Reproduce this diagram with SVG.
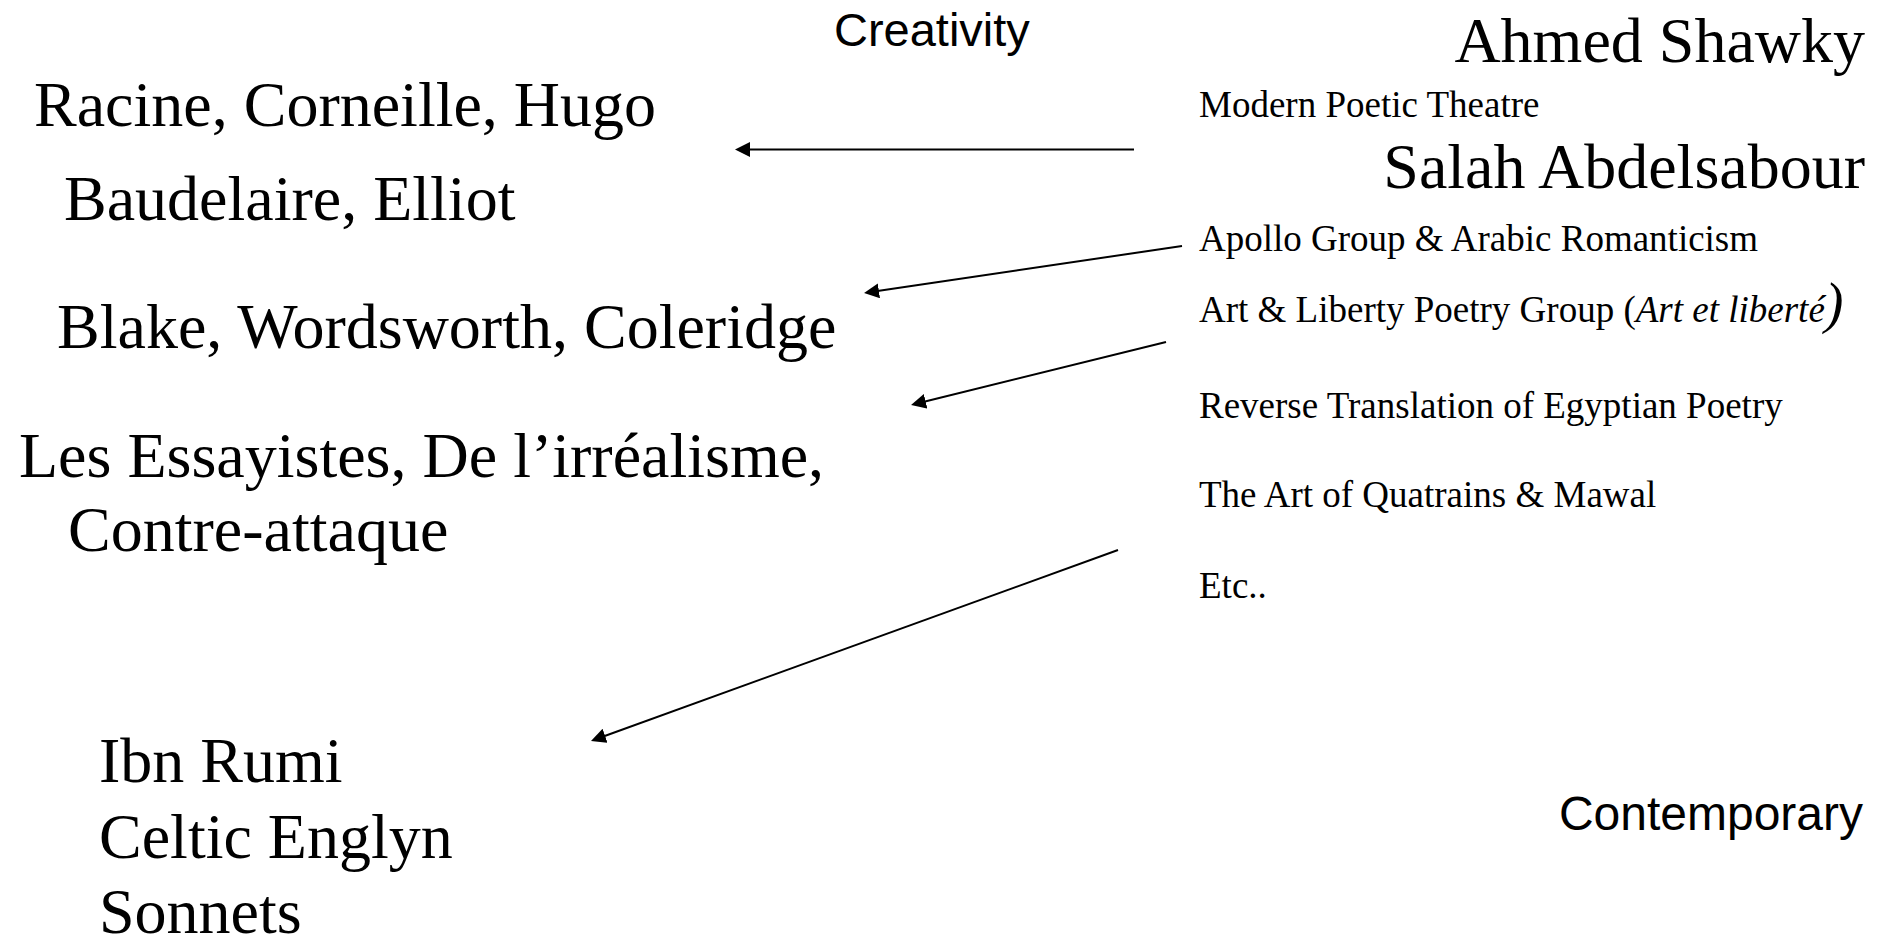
<svg xmlns="http://www.w3.org/2000/svg" width="1889" height="938" viewBox="0 0 1889 938">
<style>
.serif{font-family:"Liberation Serif","Times New Roman",serif;fill:#000}
.big{font-size:64px}
.small{font-size:37px}
.sans{font-family:"Liberation Sans",Arial,sans-serif;font-size:47px;fill:#000}
.conn{stroke:#000;stroke-width:2;fill:none}
</style>
<defs>
<marker id="arrow" markerUnits="userSpaceOnUse" markerWidth="16" markerHeight="16" refX="10" refY="7.5" orient="auto">
<path d="M0,0 L15,7.5 L0,15 Z" fill="#000"/>
</marker>
</defs>
<rect width="1889" height="938" fill="#fff"/>
<g id="creativity"><text class="sans" x="834" y="46">Creativity</text></g>
<g id="contemporary"><text class="sans" x="1863" y="830" text-anchor="end" style="font-size:48px">Contemporary</text></g>
<g id="racine"><text class="serif big" x="34" y="126">Racine, Corneille, Hugo</text></g>
<g id="baudelaire"><text class="serif big" x="64" y="220">Baudelaire, Elliot</text></g>
<g id="blake"><text class="serif big" x="57" y="348">Blake, Wordsworth, Coleridge</text></g>
<g id="essayistes"><text class="serif big" x="19" y="477">Les Essayistes, De l’irréalisme,</text><text class="serif big" x="68" y="551">Contre-attaque</text></g>
<g id="ibnrumi"><text class="serif big" x="99" y="782">Ibn Rumi</text><text class="serif big" x="99" y="858">Celtic Englyn</text><text class="serif big" x="99" y="933">Sonnets</text></g>
<g id="shawky"><text class="serif big" x="1865" y="62" text-anchor="end">Ahmed Shawky</text></g>
<g id="modern"><text class="serif small" x="1199" y="117">Modern Poetic Theatre</text></g>
<g id="salah"><text class="serif big" x="1865" y="188" text-anchor="end">Salah Abdelsabour</text></g>
<g id="apollo"><text class="serif small" x="1199" y="251">Apollo Group &amp; Arabic Romanticism</text></g>
<g id="artliberty"><text class="serif small" x="1199" y="322">Art &amp; Liberty Poetry Group (<tspan font-style="italic">Art et liberté</tspan><tspan font-style="italic" style="font-size:56px">)</tspan></text></g>
<g id="reverse"><text class="serif small" x="1199" y="418">Reverse Translation of Egyptian Poetry</text></g>
<g id="quatrains"><text class="serif small" x="1199" y="507">The Art of Quatrains &amp; Mawal</text></g>
<g id="etc"><text class="serif small" x="1199" y="598">Etc..</text></g>
<g id="connectors">
<line class="conn" x1="1134" y1="149.5" x2="740" y2="149.5" marker-end="url(#arrow)"/>
<line class="conn" x1="1182" y1="246" x2="869" y2="292.3" marker-end="url(#arrow)"/>
<line class="conn" x1="1166" y1="342" x2="915.9" y2="403.8" marker-end="url(#arrow)"/>
<line class="conn" x1="1118" y1="550" x2="595.7" y2="739.3" marker-end="url(#arrow)"/>
</g>
</svg>
